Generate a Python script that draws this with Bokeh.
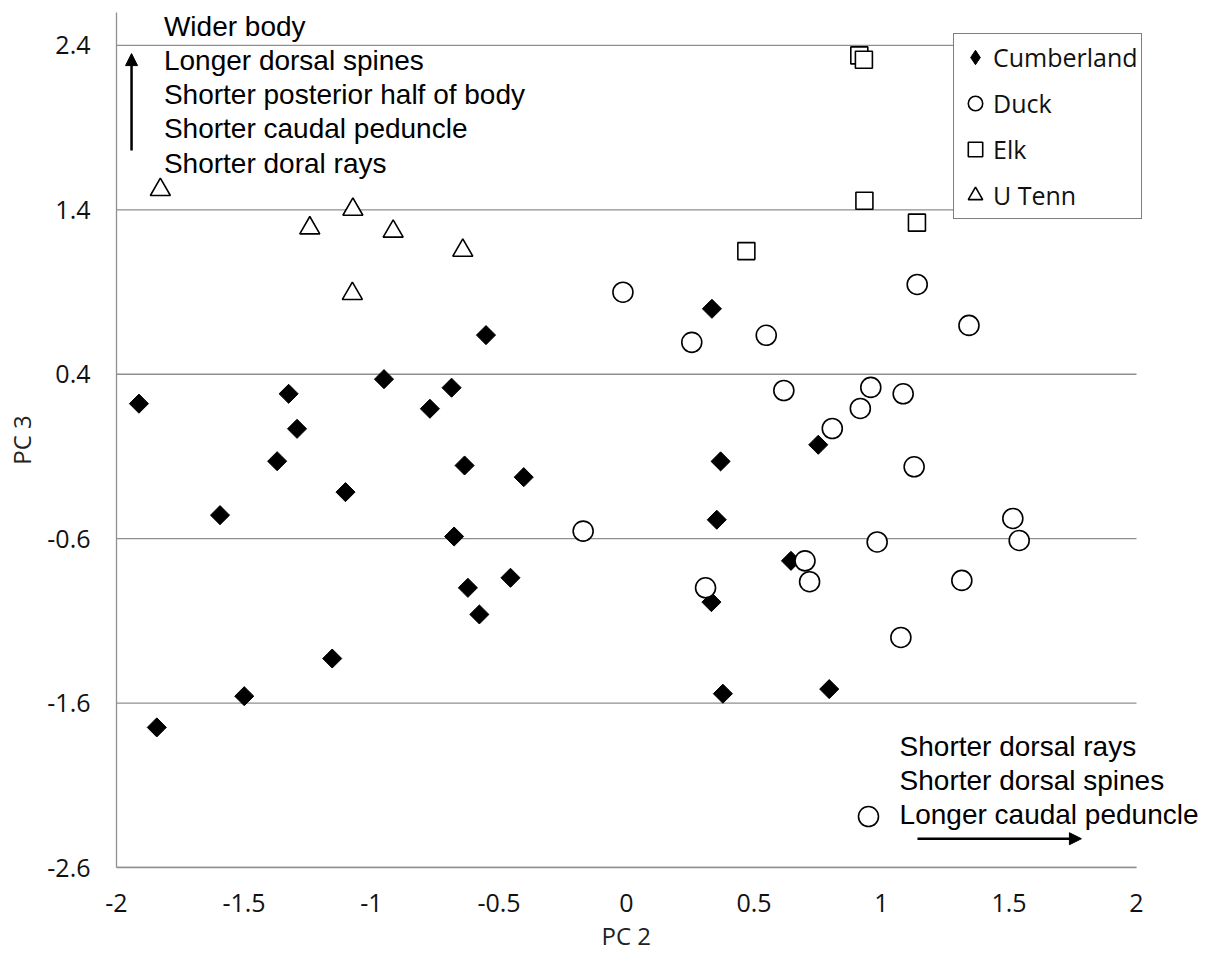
import math
from bokeh.plotting import figure
from bokeh.models import (Range1d, FixedTicker, Legend, LegendItem, Label,
                          Arrow, NormalHead, Title)
from bokeh.embed import file_html
from bokeh.resources import INLINE

# ---------------- data ----------------
cumberland_pc2 = [-1.912, -1.325, -1.292, -1.370, -1.594, -1.102, -0.951, -0.771,
                  -0.686, -0.551, -0.635, -0.403, -0.676, -0.622, -0.455, -0.577,
                  -1.154, -1.499, -1.842, 0.335, 0.369, 0.752, 0.354, 0.645,
                  0.333, 0.378, 0.795]
cumberland_pc3 = [0.221, 0.281, 0.068, -0.129, -0.457, -0.317, 0.370, 0.190,
                  0.318, 0.638, -0.155, -0.226, -0.587, -0.899, -0.838, -1.061,
                  -1.329, -1.558, -1.748, 0.798, -0.130, -0.029, -0.485, -0.735,
                  -0.986, -1.543, -1.515]

duck_pc2 = [-0.014, 0.256, 0.548, 1.140, 1.343, 0.617, 0.958, 1.085, 0.917,
            0.807, 1.128, -0.170, 1.515, 0.983, 1.540, 0.700, 0.718, 1.315,
            0.310, 1.076, 0.949]
duck_pc3 = [0.899, 0.594, 0.637, 0.946, 0.697, 0.301, 0.320, 0.281, 0.192,
            0.070, -0.163, -0.554, -0.477, -0.620, -0.611, -0.735, -0.862,
            -0.854, -0.899, -1.201, -2.290]

elk_pc2 = [0.913, 0.931, 0.933, 1.139, 0.470]
elk_pc3 = [2.339, 2.313, 1.455, 1.322, 1.149]

utenn_pc2 = [-1.828, -1.073, -1.242, -0.915, -0.642, -1.075]
utenn_pc3 = [1.522, 1.402, 1.289, 1.269, 1.153, 0.890]

series_names = ["Cumberland", "Duck", "Elk", "U Tenn"]

x_ticks = [-2, -1.5, -1, -0.5, 0, 0.5, 1, 1.5, 2]
x_tick_labels = ["-2", "-1.5", "-1", "-0.5", "0", "0.5", "1", "1.5", "2"]
y_ticks = [-2.6, -1.6, -0.6, 0.4, 1.4, 2.4]
y_tick_labels = ["-2.6", "-1.6", "-0.6", "0.4", "1.4", "2.4"]
x_title = "PC 2"
y_title = "PC 3"

notes_pc3 = ["Wider body", "Longer dorsal spines", "Shorter posterior half of body",
             "Shorter caudal peduncle", "Shorter doral rays"]
notes_pc2 = ["Shorter dorsal rays", "Shorter dorsal spines", "Longer caudal peduncle"]

# ---------------- layout ----------------
X_MIN, X_MAX = -2, 2
Y_MIN, Y_MAX = -2.6, 2.6
PX_PER_X = 1020 / 4.0          # pixels per PC2 unit inside the axis span
FRAME_W = 1089                 # frame extends right so the notes are not clipped
X_VIEW_MAX = X_MIN + FRAME_W / PX_PER_X

GRID = "#8f8f8f"
TICK_FONT = "Open Sans"
NOTE_FONT = "Liberation Sans"

p = figure(frame_width=FRAME_W, frame_height=855,
           x_range=Range1d(X_MIN, X_VIEW_MAX), y_range=Range1d(Y_MIN, Y_MAX),
           output_backend="svg", toolbar_location=None,
           min_border_left=116, min_border_top=12, min_border_right=2,
           min_border_bottom=20,
           background_fill_color="white", border_fill_color="white",
           outline_line_color=None)

p.xgrid.visible = False
p.ygrid.visible = False

# horizontal gridlines only across the PC2 axis span
p.segment(x0=[X_MIN] * len(y_ticks), x1=[X_MAX] * len(y_ticks),
          y0=y_ticks, y1=y_ticks, line_color=GRID, line_width=1.3)

for ax in (p.xaxis[0], p.yaxis[0]):
    ax.major_tick_line_color = None
    ax.minor_tick_line_color = None
    ax.major_tick_out = 0
    ax.major_tick_in = 0
    ax.axis_line_color = GRID
    ax.axis_line_width = 1.3
    ax.major_label_text_font = TICK_FONT
    ax.major_label_text_font_size = "25px"
    ax.major_label_text_color = "#111111"
    ax.axis_label_text_font = TICK_FONT
    ax.axis_label_text_font_size = "24px"
    ax.axis_label_text_font_style = "normal"
    ax.axis_label_text_color = "#222222"

p.xaxis.bounds = (X_MIN, X_MAX)
p.xaxis.ticker = FixedTicker(ticks=x_ticks)
p.xaxis.major_label_overrides = dict(zip(x_ticks, x_tick_labels))
p.xaxis.major_label_standoff = 26

p.yaxis.ticker = FixedTicker(ticks=y_ticks)
p.yaxis.major_label_overrides = dict(zip(y_ticks, y_tick_labels))
p.yaxis.major_label_standoff = 26
p.yaxis.axis_label = y_title
p.yaxis.axis_label_standoff = 6

# x-axis title centred under the PC2 span (not under the widened frame)
title_w = 50
p.add_layout(Title(text=x_title, align="left", offset=510 - title_w / 2,
                   standoff=5, text_font=TICK_FONT, text_font_size="24px",
                   text_font_style="normal", text_color="#222222"), "below")

# ---------------- series ----------------
# narrow diamond under the Cumberland markers: provides the legend swatch
r_c_key = p.scatter(cumberland_pc2, cumberland_pc3, marker="diamond", size=17,
                    fill_color="black", line_color="black", line_width=1)
r_c = p.scatter(cumberland_pc2, cumberland_pc3, marker="square", size=13.5,
                angle=math.pi / 4, fill_color="black", line_color="black",
                line_width=1)
r_d = p.scatter(duck_pc2, duck_pc3, marker="circle", size=20,
                fill_color="white", line_color="black", line_width=1.6)
r_e = p.scatter(elk_pc2, elk_pc3, marker="square", size=17,
                fill_color="white", line_color="black", line_width=1.6)
r_u = p.scatter(utenn_pc2, utenn_pc3, marker="triangle", size=20,
                fill_color="white", line_color="black", line_width=1.6)

legend = Legend(
    items=[LegendItem(label=n, renderers=[r]) for n, r in
           zip(series_names, [r_c_key, r_d, r_e, r_u])],
    location=(837, 648), orientation="vertical",
    glyph_width=36, glyph_height=40, label_standoff=0, label_height=40,
    padding=3, spacing=6, margin=0,
    border_line_color="black", border_line_width=1.5,
    background_fill_color="white", background_fill_alpha=1.0,
    label_text_font=TICK_FONT, label_text_font_size="25px",
    label_text_color="#111111")
p.add_layout(legend)

# ---------------- annotations ----------------
top_x = -1.814
top_baselines = [2.516, 2.309, 2.100, 1.894, 1.684]
for t, yb in zip(notes_pc3, top_baselines):
    p.add_layout(Label(x=top_x, y=yb, text=t, text_font=NOTE_FONT,
                       text_font_size="28px", text_baseline="alphabetic",
                       text_align="left", text_color="black"))

bot_x = 1.071
bot_baselines = [-1.864, -2.071, -2.278]
for t, yb in zip(notes_pc2, bot_baselines):
    p.add_layout(Label(x=bot_x, y=yb, text=t, text_font=NOTE_FONT,
                       text_font_size="28px", text_baseline="alphabetic",
                       text_align="left", text_color="black"))

p.add_layout(Arrow(end=NormalHead(size=12, fill_color="black", line_color="black"),
                   x_start=-1.941, y_start=1.761, x_end=-1.941, y_end=2.350,
                   line_width=2.5, line_color="black"))
p.add_layout(Arrow(end=NormalHead(size=12, fill_color="black", line_color="black"),
                   x_start=1.141, y_start=-2.425, x_end=1.784, y_end=-2.425,
                   line_width=2.5, line_color="black"))

open("out.html", "w").write(file_html(p, INLINE))
